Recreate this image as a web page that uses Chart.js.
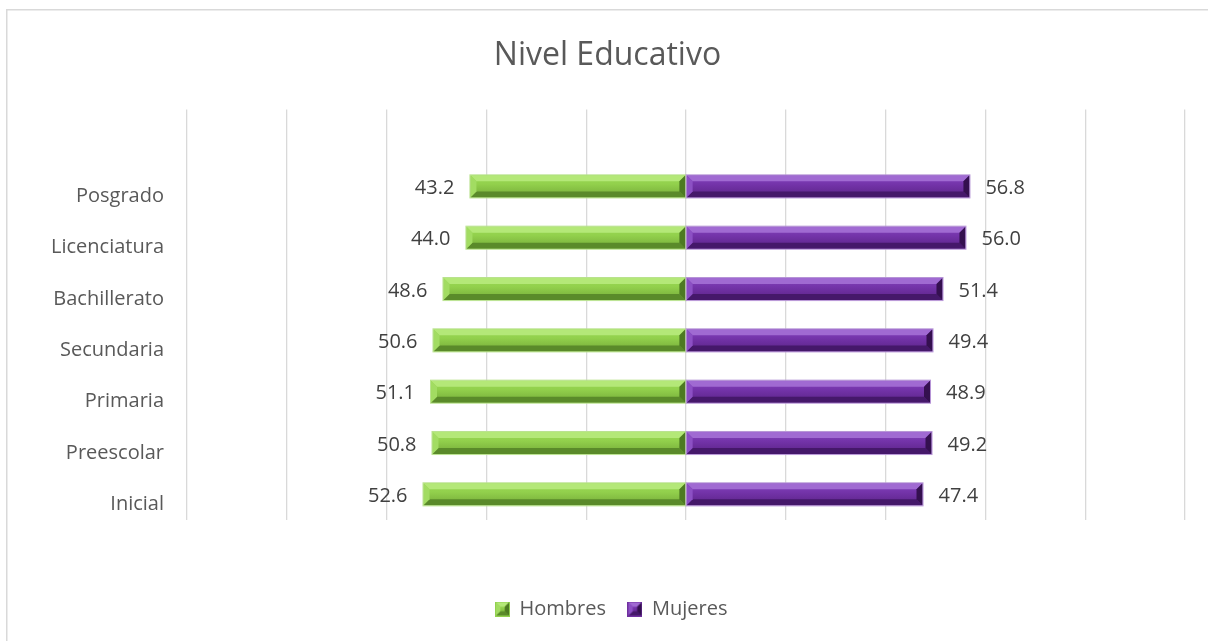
<!DOCTYPE html>
<html>
<head>
<meta charset="utf-8">
<script src="https://cdn.jsdelivr.net/npm/chart.js@4.4.1/dist/chart.umd.min.js"></script>
<style>
    html, body { margin: 0; padding: 0; background: #fff; }
    #wrap { width: 1208px; height: 641px; }
</style>
</head>
<body>
<div id="wrap"><canvas id="barChart" width="1208" height="641"></canvas></div>
<script>
// Datos
const categories = ['Posgrado', 'Licenciatura', 'Bachillerato', 'Secundaria', 'Primaria', 'Preescolar', 'Inicial'];
const hombres = [43.2, 44.0, 48.6, 50.6, 51.1, 50.8, 52.6];
const mujeres = [56.8, 56.0, 51.4, 49.4, 48.9, 49.2, 47.4];
const xTicks = [-100, -80, -60, -40, -20, 0, 20, 40, 60, 80, 100];

const FONT = '"Open Sans", "Noto Sans", sans-serif';

// Paletas para el efecto bisel
const palettes = [
    { // Hombres (verde)
        base: '#92d050', top: '#b4e878', faceTop: '#9ada56', faceMid: '#92d04c', faceBot: '#74aa38',
        bottom: '#5a8a2a', left: '#a2dc62', right: '#4d7a22', outline: '#b9e28e'
    },
    { // Mujeres (morado)
        base: '#7030a0', top: '#a06ad2', faceTop: '#8444bc', faceMid: '#7434aa', faceBot: '#5a2286',
        bottom: '#45186a', left: '#8c50c4', right: '#34104f', outline: '#b694d6'
    }
];

function drawBevel(ctx, x0, y0, x1, y1, p) {
    const w = x1 - x0, h = y1 - y0;
    const b = Math.min(6, h / 3, w / 2);
    // cara
    const g = ctx.createLinearGradient(0, y0, 0, y1);
    g.addColorStop(0, p.faceTop);
    g.addColorStop(0.4, p.faceMid);
    g.addColorStop(1, p.faceBot);
    ctx.fillStyle = g;
    ctx.fillRect(x0, y0, w, h);
    // arriba
    ctx.fillStyle = p.top;
    ctx.beginPath();
    ctx.moveTo(x0, y0); ctx.lineTo(x1, y0); ctx.lineTo(x1 - b, y0 + b); ctx.lineTo(x0 + b, y0 + b);
    ctx.closePath(); ctx.fill();
    // abajo
    ctx.fillStyle = p.bottom;
    ctx.beginPath();
    ctx.moveTo(x0, y1); ctx.lineTo(x1, y1); ctx.lineTo(x1 - b, y1 - b); ctx.lineTo(x0 + b, y1 - b);
    ctx.closePath(); ctx.fill();
    // izquierda
    ctx.fillStyle = p.left;
    ctx.beginPath();
    ctx.moveTo(x0, y0); ctx.lineTo(x0 + b, y0 + b); ctx.lineTo(x0 + b, y1 - b); ctx.lineTo(x0, y1);
    ctx.closePath(); ctx.fill();
    // derecha
    ctx.fillStyle = p.right;
    ctx.beginPath();
    ctx.moveTo(x1, y0); ctx.lineTo(x1 - b, y0 + b); ctx.lineTo(x1 - b, y1 - b); ctx.lineTo(x1, y1);
    ctx.closePath(); ctx.fill();
    // contorno
    ctx.strokeStyle = p.outline;
    ctx.lineWidth = 1;
    ctx.strokeRect(x0 - 0.5, y0 - 0.5, w + 1, h + 1);
}

function makeMarker(p) {
    const c = document.createElement('canvas');
    c.width = 15; c.height = 15;
    drawBevel(c.getContext('2d'), 1, 1, 14, 14, Object.assign({}, p, { outline: p.base }));
    return c;
}
const markers = palettes.map(makeMarker);

// Marco del gráfico
const framePlugin = {
    id: 'frame',
    beforeDraw(chart) {
        const ctx = chart.ctx;
        ctx.save();
        ctx.fillStyle = '#fff';
        ctx.fillRect(0, 0, chart.width, chart.height);
        ctx.strokeStyle = '#d9d9d9';
        ctx.lineWidth = 1.5;
        ctx.strokeRect(6.75, 9.75, 1400, 800);
        ctx.restore();
    }
};

// Barras con bisel y etiquetas de datos
const bevelPlugin = {
    id: 'bevel',
    afterDatasetsDraw(chart) {
        const ctx = chart.ctx;
        ctx.save();
        chart.data.datasets.forEach((ds, i) => {
            const meta = chart.getDatasetMeta(i);
            meta.data.forEach((bar, j) => {
                const v = ds.data[j];
                if (v == null) return;
                const left = Math.min(bar.x, bar.base), right = Math.max(bar.x, bar.base);
                const top = bar.y - bar.height / 2, bottom = bar.y + bar.height / 2;
                drawBevel(ctx, left, top, right, bottom, palettes[i]);
            });
        });
        ctx.font = '20px ' + FONT;
        ctx.fillStyle = '#404040';
        ctx.textBaseline = 'middle';
        chart.data.datasets.forEach((ds, i) => {
            const meta = chart.getDatasetMeta(i);
            meta.data.forEach((bar, j) => {
                const v = ds.data[j];
                if (v == null) return;
                const txt = Math.abs(v).toFixed(1);
                if (v < 0) {
                    ctx.textAlign = 'right';
                    ctx.fillText(txt, bar.x - 16, bar.y + 2);
                } else {
                    ctx.textAlign = 'left';
                    ctx.fillText(txt, bar.x + 16, bar.y + 2);
                }
            });
        });
        ctx.restore();
    },
    afterLayout(chart) {
        // título y leyenda del original están algo a la derecha del centro
        if (chart.titleBlock) {
            chart.titleBlock.left += 12;
            chart.titleBlock.right += 12;
        }
        if (chart.legend) {
            chart.legend.left += 16;
            chart.legend.right += 16;
        }
    }
};

const labels = [''].concat(categories);
const dataHombres = [null].concat(hombres.map(v => -v));
const dataMujeres = [null].concat(mujeres);

const ctx = document.getElementById('barChart').getContext('2d');
const barChart = new Chart(ctx, {
    type: 'bar',
    data: {
        labels: labels,
        datasets: [
            { label: 'Hombres', data: dataHombres, backgroundColor: palettes[0].base, barPercentage: 0.43, categoryPercentage: 1 },
            { label: 'Mujeres', data: dataMujeres, backgroundColor: palettes[1].base, barPercentage: 0.43, categoryPercentage: 1 }
        ]
    },
    options: {
        indexAxis: 'y',
        responsive: false,
        animation: false,
        layout: { padding: { left: 6, right: 23, top: 9, bottom: 12 } },
        plugins: {
            title: {
                display: true,
                text: 'Nivel Educativo',
                color: '#595959',
                font: { family: FONT, size: 32, weight: 'normal' },
                padding: { top: 28, bottom: 34 }
            },
            legend: {
                position: 'bottom',
                labels: {
                    usePointStyle: true,
                    boxWidth: 14,
                    boxHeight: 14,
                    padding: 22,
                    color: '#595959',
                    font: { family: FONT, size: 20 },
                    generateLabels: chart => chart.data.datasets.map((ds, i) => ({
                        text: ds.label,
                        pointStyle: markers[i],
                        fillStyle: palettes[i].base,
                        strokeStyle: palettes[i].base,
                        lineWidth: 0,
                        hidden: false,
                        fontColor: '#595959',
                        datasetIndex: i
                    }))
                }
            },
            tooltip: { enabled: false }
        },
        scales: {
            x: {
                type: 'linear',
                min: -100,
                max: 100,
                stacked: true,
                afterBuildTicks: scale => { scale.ticks = xTicks.map(v => ({ value: v })); },
                ticks: { display: false },
                grid: { color: '#d9d9d9', lineWidth: 1.3, drawTicks: false },
                border: { display: false },
                afterFit: scale => { scale.height = 57; }
            },
            y: {
                stacked: true,
                grid: { display: false, drawTicks: false },
                border: { display: false },
                ticks: {
                    padding: 23,
                    labelOffset: 10,
                    color: '#595959',
                    font: { family: FONT, size: 20 }
                },
                afterFit: scale => { scale.width = 181; }
            }
        }
    },
    plugins: [framePlugin, bevelPlugin]
});
</script>
</body>
</html>
